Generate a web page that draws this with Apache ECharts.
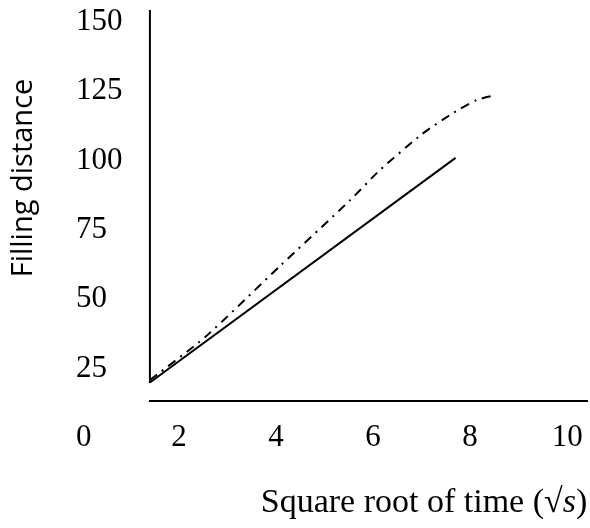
<!DOCTYPE html>
<html>
<head>
<meta charset="utf-8">
<script src="https://cdn.jsdelivr.net/npm/echarts@6/dist/echarts.min.js"></script>
<style>html,body{margin:0;padding:0;background:#fff}#c{width:590px;height:528px}</style>
</head>
<body>
<div id="c"></div>
<script>
// Data
var solidX = [1.4, 7.7];
var solidY = [20, 101];
var dashX = [1.4, 2.54, 4.08, 5.53, 6.14, 7.01, 7.65, 8.14, 8.45];
var dashY = [20.9, 36.4, 62, 85.8, 96.6, 109.6, 117.2, 121.9, 123.3];
// Drawn axis lines (in data units)
var vAxisX = [1.4, 1.4];
var vAxisY = [19.8, 154.3];
var hAxisX = [1.38, 10.43];
var hAxisY = [13.3, 13.3];
var xTicks = [0, 2, 4, 6, 8, 10];
var yTicks = [0, 25, 50, 75, 100, 125, 150];
var xMax = 10.43;
var xTitle = 'Square root of time (√';
var yTitle = 'Filling distance';

function zip(a, b) { return a.map(function (v, i) { return [v, b[i]]; }); }

var chart = echarts.init(document.getElementById('c'), null, {renderer: 'canvas'});
var serif = '"Liberation Serif", "Times New Roman", serif';
chart.setOption({
  animation: false,
  backgroundColor: '#fff',
  grid: {left: 82, right: 2, top: 22, bottom: 90},
  xAxis: {
    type: 'value', min: xTicks[0], max: xMax, interval: 2,
    axisLine: {show: false}, axisTick: {show: false}, splitLine: {show: false},
    axisLabel: {
      margin: 0, verticalAlign: 'middle', showMaxLabel: false,
      fontFamily: serif, fontSize: 31, color: '#000',
      formatter: function (v) { return (v === 0 || xTicks.indexOf(v) < 0) ? '' : String(v); }
    }
  },
  yAxis: {
    type: 'value', min: yTicks[0], max: yTicks[yTicks.length - 1], interval: 25,
    axisLine: {show: false}, axisTick: {show: false}, splitLine: {show: false},
    axisLabel: {margin: 6, align: 'left', fontFamily: serif, fontSize: 31, color: '#000'}
  },
  graphic: [
    {
      type: 'text', x: 424, y: 503,
      style: {
        text: '{a|' + xTitle + '}{b|s}{a|)}',
        align: 'center', verticalAlign: 'middle',
        rich: {
          a: {fontFamily: serif, fontSize: 34, fill: '#000'},
          b: {fontFamily: serif, fontSize: 34, fontStyle: 'italic', fill: '#000'}
        }
      }
    },
    {
      type: 'text', x: 24, y: 178, rotation: Math.PI / 2,
      style: {
        text: yTitle, fontFamily: '"Open Sans", sans-serif', fontSize: 29,
        fill: '#000', align: 'center', verticalAlign: 'middle'
      }
    }
  ],
  series: [
    {type: 'line', data: zip(vAxisX, vAxisY), symbol: 'none', clip: false, silent: true,
     lineStyle: {color: '#000', width: 2}},
    {type: 'line', data: zip(hAxisX, hAxisY), symbol: 'none', clip: false, silent: true,
     lineStyle: {color: '#000', width: 2}},
    {type: 'line', data: zip(solidX, solidY), symbol: 'none', clip: false,
     lineStyle: {color: '#000', width: 2}},
    {type: 'line', data: zip(dashX, dashY), symbol: 'none', smooth: 0.2, clip: false,
     lineStyle: {color: '#000', width: 2, type: [9, 6, 2, 6]}}
  ]
});
</script>
</body>
</html>
